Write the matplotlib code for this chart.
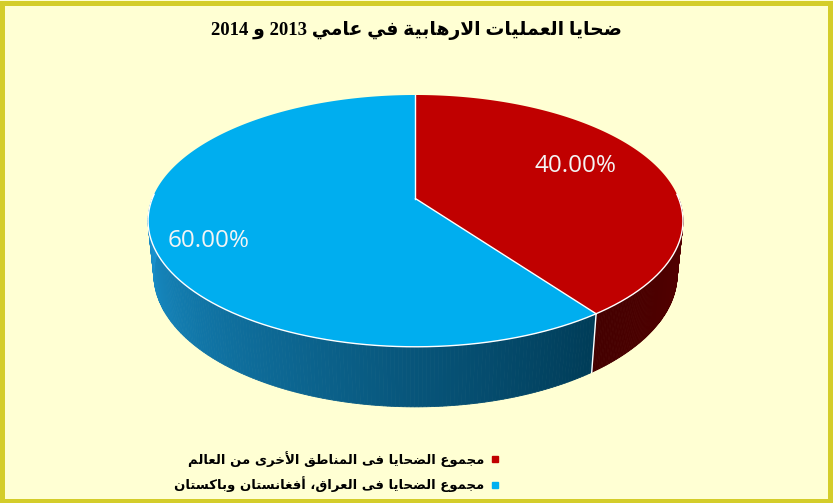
import re
import numpy as np
import matplotlib
matplotlib.use('Agg')
import matplotlib.pyplot as plt
import matplotlib.colors as mcolors
from matplotlib.patches import Polygon, Rectangle
from matplotlib.lines import Line2D

title = 'ضحايا العمليات الارهابية في عامي 2013 و 2014'
categories = ['مجموع الضحايا فى المناطق الأخرى من العالم',
              'مجموع الضحايا فى العراق، أفغانستان وباكستان']
values = [40.0, 60.0]
top_colors = ['#C00000', '#00AEEF']
legend_colors = ['#C00000', '#00B0F0']
# side colours: (left end, right end) of the visible side band
side_colors = [('#440000', '#5A0000'), ('#1A94D0', '#003C58')]
label_radius = [0.70, 0.81]

# ---- tiny arabic shaper (matplotlib has no shaping / bidi) ----
_forms = {
    'ء': (0xFE80, 0), 'آ': (0xFE81, 1), 'أ': (0xFE83, 1), 'ؤ': (0xFE85, 1), 'إ': (0xFE87, 1),
    'ئ': (0xFE89, 2), 'ا': (0xFE8D, 1), 'ب': (0xFE8F, 2), 'ة': (0xFE93, 1), 'ت': (0xFE95, 2),
    'ث': (0xFE99, 2), 'ج': (0xFE9D, 2), 'ح': (0xFEA1, 2), 'خ': (0xFEA5, 2), 'د': (0xFEA9, 1),
    'ذ': (0xFEAB, 1), 'ر': (0xFEAD, 1), 'ز': (0xFEAF, 1), 'س': (0xFEB1, 2), 'ش': (0xFEB5, 2),
    'ص': (0xFEB9, 2), 'ض': (0xFEBD, 2), 'ط': (0xFEC1, 2), 'ظ': (0xFEC5, 2), 'ع': (0xFEC9, 2),
    'غ': (0xFECD, 2), 'ف': (0xFED1, 2), 'ق': (0xFED5, 2), 'ك': (0xFED9, 2), 'ل': (0xFEDD, 2),
    'م': (0xFEE1, 2), 'ن': (0xFEE5, 2), 'ه': (0xFEE9, 2), 'و': (0xFEED, 1), 'ى': (0xFEEF, 1),
    'ي': (0xFEF1, 2),
}
_lamalef = {'ا': 0xFEFB, 'أ': 0xFEF7, 'إ': 0xFEF9, 'آ': 0xFEF5}


def shape(text):
    items = []
    i = 0
    while i < len(text):
        ch = text[i]
        if ch == 'ل' and i + 1 < len(text) and text[i + 1] in _lamalef:
            items.append((_lamalef[text[i + 1]], 1))
            i += 2
            continue
        items.append(_forms.get(ch, (ch, -1)))
        i += 1
    out = []
    for k, (base, jt) in enumerate(items):
        if jt < 0:
            out.append(base)
            continue
        prev = items[k - 1][1] if k > 0 else -1
        nxt = items[k + 1][1] if k + 1 < len(items) else -1
        jp = prev == 2
        jn = jt == 2 and nxt >= 1
        if jt == 0:
            off = 0
        elif jp and jn:
            off = 3
        elif jp:
            off = 1
        elif jn:
            off = 2
        else:
            off = 0
        out.append(chr(base + off))
    s = ''.join(out)[::-1]
    return re.sub(r'[0-9]+', lambda m: m.group(0)[::-1], s)


# ---- 3d pie projection (pixel space) ----
W, H = 833, 503
cx, top_y, scale = 415.5, 95.0, 1316.0
D = 5.0
elev = np.radians(27.6)
ce, se = np.cos(elev), np.sin(elev)
depth = 0.231


def proj(r, th, h=0.0):
    x = r * np.cos(th)
    y = r * np.sin(th)
    dd = D + y * ce - h * se
    sx = x / dd
    sy = (y * se + h * ce) / dd
    y_back = se / (D + ce)
    return cx + sx * scale, top_y + (y_back - sy) * scale


fig = plt.figure(figsize=(W / 100, H / 100), dpi=100)
fig.patch.set_facecolor('#FFFFD3')
ax = fig.add_axes([0, 0, 1, 1])
ax.set_xlim(0, W)
ax.set_ylim(H, 0)
ax.axis('off')

fracs = np.array(values) / sum(values)
starts = np.radians(90 - 360 * np.concatenate([[0], np.cumsum(fracs)[:-1]]))
ends = starts - 2 * np.pi * fracs

# side bands, gradient runs left -> right over the visible part
for i in range(len(values)):
    ths = np.linspace(starts[i], ends[i], 300)
    mids = (ths[:-1] + ths[1:]) / 2
    vis = np.sin(mids) < 0.0
    if not vis.any():
        continue
    lo, hi = mids[vis].min(), mids[vis].max()
    c_lo = np.array(mcolors.to_rgb(side_colors[i][0]))
    c_hi = np.array(mcolors.to_rgb(side_colors[i][1]))
    for k in np.where(vis)[0]:
        a, b = ths[k], ths[k + 1]
        t = (mids[k] - lo) / (hi - lo) if hi > lo else 0
        # lo angle is on the left side of the screen
        col = c_lo + (c_hi - c_lo) * t
        pts = [proj(1, a), proj(1, b), proj(1, b, -depth), proj(1, a, -depth)]
        ax.add_patch(Polygon(pts, closed=True, facecolor=col, edgecolor=col, lw=0.6))

# top faces
for i in range(len(values)):
    ths = np.linspace(starts[i], ends[i], 300)
    pts = [proj(0, 0)] + [proj(1, t) for t in ths]
    ax.add_patch(Polygon(pts, closed=True, facecolor=top_colors[i], edgecolor='none'))

# white edges: front rim, slice borders
rim = np.linspace(np.radians(-182), np.radians(2), 300)
rx, ry = zip(*[proj(1, t) for t in rim])
ax.plot(rx, ry, color='white', lw=1.0)
for s in starts:
    x0, y0 = proj(0, 0)
    x1, y1 = proj(1, s)
    ax.plot([x0, x1], [y0, y1], color='white', lw=1.0)
    if np.sin(s) < 0:
        x2, y2 = proj(1, s, -depth)
        ax.plot([x1, x2], [y1, y2], color='white', lw=1.0)

# data labels
for i in range(len(values)):
    mid = (starts[i] + ends[i]) / 2 + np.radians(6)
    lx, ly = proj(label_radius[i], mid)
    ax.text(lx, ly, f'{fracs[i] * 100:.2f}%', color='#F4F4F4', fontsize=17.5,
            family='Open Sans', ha='center', va='center')

# title
ax.text(W / 2, 30, shape(title), ha='center', va='center', fontsize=13.5,
        fontweight='bold', family=['Liberation Serif', 'DejaVu Sans'])

# legend (rtl: marker on the right)
handles = [Line2D([], [], ls='none', marker='s', markersize=5, color=c) for c in legend_colors]
ax.legend(handles, [shape(c) for c in categories], markerfirst=False, frameon=False,
          loc='center right', bbox_to_anchor=(499 / W, 1 - 471.5 / H),
          borderaxespad=0, borderpad=0, handlelength=0.6, handletextpad=0.5,
          labelspacing=0.75, prop={'family': 'DejaVu Sans', 'weight': 'bold', 'size': 9.5})

# frame
ax.add_patch(Rectangle((2.5, 2.5), W - 5, H - 5, fill=False, edgecolor='#D4CD2A', lw=3.6))

fig.savefig('out.png', dpi=100, facecolor=fig.get_facecolor())
